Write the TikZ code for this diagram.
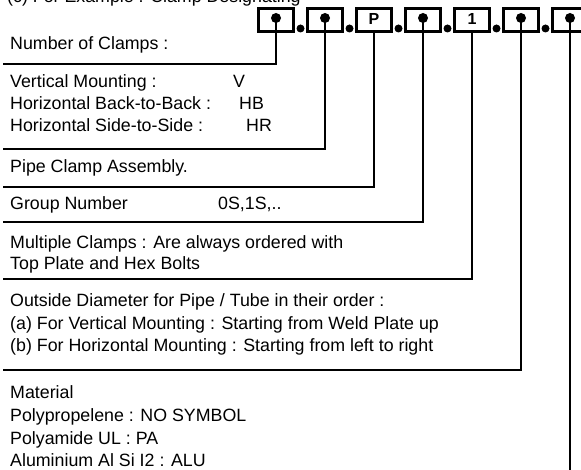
\documentclass[tikz,border=0pt]{standalone}
\usepackage{fontspec}
\setmainfont{Liberation Sans}
\begin{document}
\begin{tikzpicture}[x=1pt,y=-1pt,
  txt/.style={anchor=base west, inner sep=0pt, font=\fontsize{17.8}{21}\selectfont},
  codebox/.style={draw, line width=2.8pt, minimum width=35pt, minimum height=23pt, inner sep=0pt},
  bigdot/.style={circle, fill, inner sep=0pt, minimum size=10pt},
  smalldot/.style={circle, fill, inner sep=0pt, minimum size=8pt},
  lead/.style={line width=2.9pt, line join=miter},
  codechar/.style={font=\bfseries\fontsize{16}{16}\selectfont, inner sep=0pt}]
\useasboundingbox (0,0) rectangle (581,470);
\clip (0,0) rectangle (581,470);
% title (cut off at top)
\node[txt] (title) at (7,3) {(c) For Example : Clamp Designating};
% code boxes
\node[codebox] (b1) at (276,20) {};
\node[codebox] (b2) at (325,20) {};
\node[codebox] (b3) at (374,20) {};
\node[codebox] (b4) at (423,20) {};
\node[codebox] (b5) at (472,20) {};
\node[codebox] (b6) at (521,20) {};
\node[codebox] (b7) at (570,20) {};
\node[bigdot] (d1) at (276,18) {};
\node[bigdot] (d2) at (325,18) {};
\node[codechar] (p3) at (374,18.5) {P};
\node[bigdot] (d4) at (423,18) {};
\node[codechar] (p5) at (472,19) {1};
\node[bigdot] (d6) at (521,18) {};
\node[bigdot] (d7) at (570,18) {};
\node[smalldot] (s1) at (300.5,28.5) {};
\node[smalldot] (s2) at (349.5,28.5) {};
\node[smalldot] (s3) at (398.5,28.5) {};
\node[smalldot] (s4) at (447.5,28.5) {};
\node[smalldot] (s5) at (496.5,28.5) {};
\node[smalldot] (s6) at (545.5,28.5) {};
% corner end points of leaders
\coordinate (e1) at (3,64);
\coordinate (e2) at (3,149);
\coordinate (e3) at (3,187);
\coordinate (e4) at (3,222);
\coordinate (e5) at (3,279);
\coordinate (e6) at (3,370);
\coordinate (e7) at (570,472);
% leaders
\draw[lead] (d1.center) |- (e1);
\draw[lead] (d2.center) |- (e2);
\draw[lead] (b3.south) |- (e3);
\draw[lead] (d4.center) |- (e4);
\draw[lead] (b5.south) |- (e5);
\draw[lead] (d6.center) |- (e6);
\draw[lead] (d7.center) -- (e7);
% texts
\node[txt] (t1) at (10,50) {Number of Clamps :};
\node[txt] (t2a) at (10,88) {Vertical Mounting :};
\node[txt] (t2b) at (10,110) {Horizontal Back-to-Back :};
\node[txt] (t2c) at (10,132) {Horizontal Side-to-Side :};
\node[txt] (v2a) at (233,88) {V};
\node[txt] (v2b) at (239,110) {HB};
\node[txt] (v2c) at (246,132) {HR};
\node[txt] (t3) at (10,173) {Pipe Clamp Assembly.};
\node[txt] (t4) at (10,210) {Group Number};
\node[txt] (v4) at (218,210) {0S,1S,..};
\node[txt] (t5a) at (10,249) {Multiple Clamps : Are always ordered with};
\node[txt] (t5b) at (10,270) {Top Plate and Hex Bolts};
\node[txt] (t6a) at (10,307) {Outside Diameter for Pipe / Tube in their order :};
\node[txt] (t6b) at (10,330) {(a) For Vertical Mounting : Starting from Weld Plate up};
\node[txt] (t6c) at (10,352) {(b) For Horizontal Mounting : Starting from left to right};
\node[txt] (t7a) at (10,398) {Material};
\node[txt] (t7b) at (10,421) {Polypropelene : NO SYMBOL};
\node[txt] (t7c) at (10,444) {Polyamide UL : PA};
\node[txt] (t7d) at (10,466) {Aluminium Al Si I2 : ALU};
\end{tikzpicture}
\end{document}
